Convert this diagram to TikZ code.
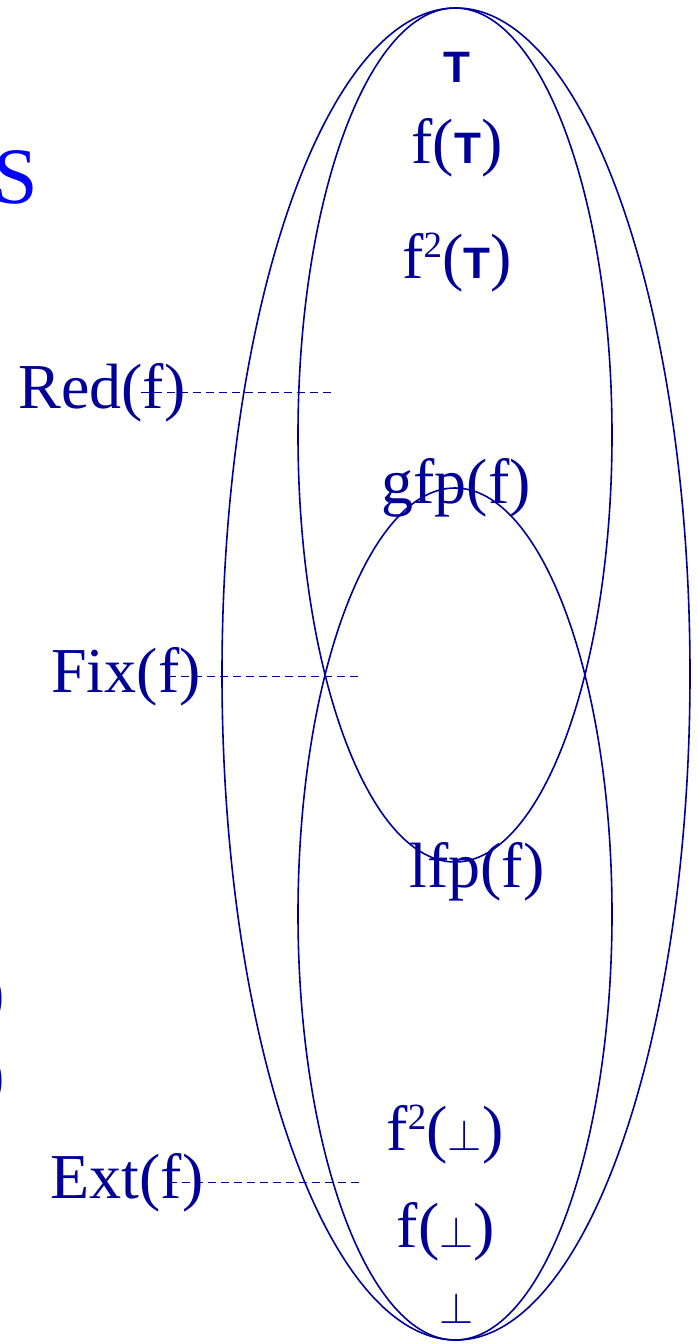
\RequirePackage{fix-cm}
\documentclass[tikz,border=0pt]{standalone}
\usepackage{fontspec}
\setmainfont{Liberation Serif}
\newfontfamily\topfont{Liberation Sans}
\usetikzlibrary{positioning}

\definecolor{navy}{RGB}{0,0,153}
\definecolor{slideblue}{RGB}{0,0,255}
\newcommand{\tp}{{\topfont\bfseries\fontsize{44}{48}\selectfont T}}
\newcommand{\bt}{{\fontsize{44}{48}\selectfont$\perp$}}
\newcommand{\sq}{\raisebox{21pt}{\fontsize{37}{40}\selectfont 2}}

\begin{document}
\begin{tikzpicture}
 [x=1pt, y=-1pt,
  label node/.style={anchor=base, inner sep=0pt, text=navy, font=\fontsize{64}{70}\selectfont},
  set line/.style={draw=navy, line width=1.6pt},
  guide line/.style={draw=navy, line width=1.5pt, dash pattern=on 8pt off 5pt}]

\useasboundingbox (0,0) rectangle (698,1344);

% the sets
\draw[set line] (456,674) ellipse [x radius=234pt, y radius=666pt];
\draw[set line] (455,435) ellipse [x radius=157pt, y radius=427pt];
\draw[set line] (455,914) ellipse [x radius=157pt, y radius=426pt];

% elements
\node[label node] (top) at (457,82) {\tp};
\node[label node] (ftop) at (457,163) {f(\tp)};
\node[label node] (ftwotop) at (457,278) {f\sq(\tp)};
\node[label node] (gfp) at (456,503) {gfp(f)};
\node[label node] (lfp) at (477,887) {lfp(f)};
\node[label node] (ftwobot) at (445,1150) {f\sq(\bt)};
\node[label node] (fbot) at (446,1247) {f(\bt)};
\node[label node] (bot) at (457,1323) {\bt};

% names of the sets
\node[label node] (red) at (102,408) {Red(f)};
\node[label node] (fix) at (126,692) {Fix(f)};
\node[label node] (ext) at (127,1198) {Ext(f)};

\coordinate[right=147pt of red.east] (red end);
\coordinate[right=158pt of fix.east] (fix end);
\coordinate[right=156pt of ext.east] (ext end);

\draw[guide line] ([xshift=-45pt]red.east) -- (red end);
\draw[guide line] ([xshift=-33pt]fix.east) -- (fix end);
\draw[guide line] ([xshift=-35pt]ext.east) -- (ext end);

% cut-off text at the left edge
\node[anchor=base east, inner sep=0pt, text=slideblue, font=\fontsize{80}{88}\selectfont] (title) at (38,203) {S};
\node[label node, anchor=base east] (cut one) at (5,1014) {)};
\node[label node, anchor=base east] (cut two) at (5,1096) {)};

\end{tikzpicture}
\end{document}
